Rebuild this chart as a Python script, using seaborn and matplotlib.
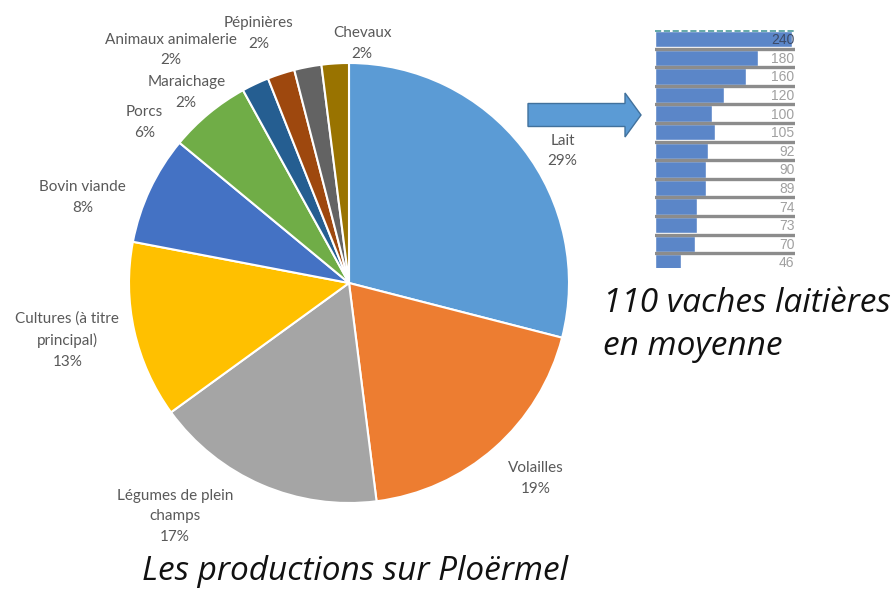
import matplotlib
matplotlib.use('Agg')
import pandas as pd
import matplotlib.pyplot as plt
import seaborn as sns
from matplotlib.patches import FancyArrow

# données du camembert
productions = ['Lait', 'Volailles', 'Légumes de plein\nchamps', 'Cultures (à titre\nprincipal)',
               'Bovin viande', 'Porcs', 'Maraichage', 'Animaux animalerie', 'Pépinières', 'Chevaux']
parts = [29, 19, 17, 13, 8, 6, 2, 2, 2, 2]
couleurs = ['#5B9BD5', '#ED7D31', '#A5A5A5', '#FFC000', '#4472C4', '#70AD47',
            '#255E91', '#9E480E', '#636363', '#997300']

# vignette : nombre de vaches par élevage
vaches = [240, 180, 160, 120, 100, 105, 92, 90, 89, 74, 73, 70, 46]

# position des étiquettes (rayon du camembert = 1)
pos_etiquettes = [(0.97, 0.60), (0.85, -0.89), (-0.79, -1.06), (-1.28, -0.26), (-1.21, 0.39),
                  (-0.93, 0.73), (-0.74, 0.865), (-0.81, 1.06), (-0.41, 1.135), (0.06, 1.09)]

sns.set_theme(style='white')
plt.rcParams['font.family'] = ['Lato', 'DejaVu Sans']

W, H = 895, 599
fig = plt.figure(figsize=(W / 100, H / 100), dpi=100)

# camembert : centre (349, 283) px, rayon 220 px
R = 220
ax = fig.add_axes([(349 - 1.6 * R) / W, (H - 283 - 1.6 * R) / H, 3.2 * R / W, 3.2 * R / H])
ax.pie(parts, colors=couleurs, startangle=90, counterclock=False,
       wedgeprops=dict(edgecolor='white', linewidth=1.5))
ax.set_xlim(-1.6, 1.6)
ax.set_ylim(-1.6, 1.6)
ax.axis('off')
for lab, p, (x, y) in zip(productions, parts, pos_etiquettes):
    ax.text(x, y, f'{lab}\n{p}%', ha='center', va='center', fontsize=11,
            color='#595959', linespacing=1.6, clip_on=False)

# vignette (barres horizontales)
df = pd.DataFrame({'ferme': [str(i) for i in range(len(vaches))], 'vaches': vaches})
axb = fig.add_axes([655 / W, (H - 268) / H, 140 / W, 238 / H])
sns.barplot(data=df, x='vaches', y='ferme', orient='h', color='#5B86C8', width=0.88,
            saturation=1, ax=axb)
axb.set_xlim(0, 245)
axb.set_ylim(12.3, -0.5)
for i in range(len(vaches)):
    axb.axhline(i + 0.5, color='#8c8c8c', lw=2.4)
    axb.text(244, i + 0.05, str(vaches[i]), ha='right', va='center', fontsize=10,
             color='#3c4a66' if i == 0 else '#a0a0a0', family='Liberation Sans')
axb.axhline(-0.47, color='#4a9a9a', lw=1.2, ls='--')
axb.set_xticks([])
axb.set_yticks([])
axb.set_xlabel('')
axb.set_ylabel('')
for s in axb.spines.values():
    s.set_visible(False)

# calque pour la flèche et les textes
ov = fig.add_axes([0, 0, 1, 1])
ov.set_xlim(0, W)
ov.set_ylim(H, 0)
ov.axis('off')
ov.patch.set_alpha(0)
ov.add_patch(FancyArrow(528, 115, 113, 0, width=23, head_width=44, head_length=16,
                        length_includes_head=True, fc='#5B9BD5', ec='#41719C', lw=1))

police_titre = ['Open Sans', 'DejaVu Sans']
ov.text(603, 312, '110 vaches laitières', fontsize=24, style='italic',
        family=police_titre, color='#111111', va='baseline', ha='left')
ov.text(603, 355, 'en moyenne', fontsize=24, style='italic',
        family=police_titre, color='#111111', va='baseline', ha='left')
ov.text(355, 580, 'Les productions sur Ploërmel', fontsize=24, style='italic',
        family=police_titre, color='#111111', va='baseline', ha='center')

fig.savefig('out.png', dpi=100)
